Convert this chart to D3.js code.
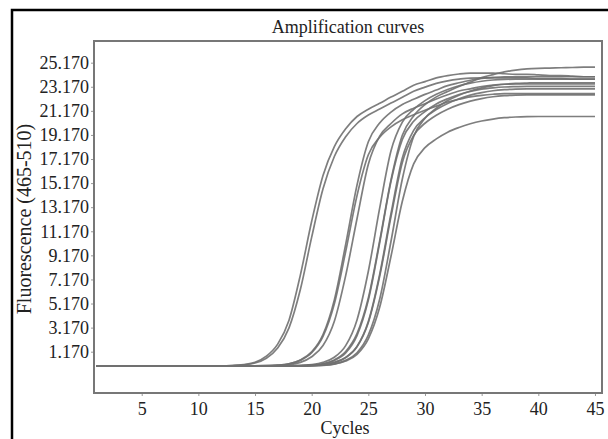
<!DOCTYPE html>
<html>
<head>
<meta charset="utf-8">
<script src="https://cdn.jsdelivr.net/npm/d3@7"></script>
<style>
  html, body { margin: 0; padding: 0; background: #fff; }
  svg { display: block; }
  text { font-family: "Liberation Serif", "Times New Roman", serif; fill: #222; }
</style>
</head>
<body>
<svg id="chart" width="608" height="439"></svg>
<script>
// ---- data ----
const cycles = [1,2,3,4,5,6,7,8,9,10,11,12,13,14,15,16,17,18,19,20,21,22,23,24,25,26,27,28,29,30,31,32,33,34,35,36,37,38,39,40,41,42,43,44,45];

const curveA1 = [0,0,0,0,0,0,0,0,0,0,0,0,0.02,0.10,0.29,0.80,1.80,3.79,7.53,12.0,15.8,18.2,19.68,20.7,21.31,21.8,22.31,22.79,23.3,23.6,23.91,24.1,24.23,24.3,24.3,24.3,24.25,24.2,24.2,24.15,24.1,24.1,24.05,24.0,24.0];
const curveA2 = [0,0,0,0,0,0,0,0,0,0,0,0,0.02,0.07,0.23,0.63,1.48,3.15,6.33,10.68,14.7,17.38,19.02,20.12,20.82,21.32,21.82,22.3,22.8,23.14,23.45,23.66,23.8,23.89,23.9,23.9,23.9,23.9,23.9,23.85,23.85,23.85,23.8,23.8,23.8];
const curveB1 = [0,0,0,0,0,0,0,0,0,0,0,0,0,0,0,0.01,0.05,0.17,0.48,1.15,2.59,5.47,10.08,15.0,18.6,20.16,21.07,21.7,22.13,22.54,22.9,23.26,23.5,23.71,23.86,23.95,24.0,24.0,24.0,24.0,24.0,24.0,24.0,24.0,24.0];
const curveB2 = [0,0,0,0,0,0,0,0,0,0,0,0,0,0,0,0.01,0.05,0.16,0.45,1.08,2.44,5.15,9.49,14.13,17.52,18.98,19.84,20.43,20.84,21.22,21.56,21.9,22.13,22.33,22.46,22.55,22.6,22.6,22.6,22.6,22.6,22.6,22.6,22.6,22.6];
const curveB3 = [0,0,0,0,0,0,0,0,0,0,0,0,0,0,0,0,0.02,0.09,0.28,0.75,1.68,3.7,7.49,12.21,16.73,19.07,20.12,20.92,21.39,21.76,22.16,22.51,22.82,23.0,23.19,23.31,23.38,23.4,23.4,23.4,23.4,23.4,23.4,23.4,23.4];
const curveC1 = [0,0,0,0,0,0,0,0,0,0,0,0,0,0,0,0,0,0,0.02,0.1,0.29,0.71,1.67,3.81,7.85,13.09,17.85,20.23,21.3,22.02,22.54,22.94,23.25,23.47,23.63,23.73,23.78,23.8,23.8,23.8,23.8,23.8,23.8,23.8,23.8];
const curveC2 = [0,0,0,0,0,0,0,0,0,0,0,0,0,0,0,0,0,0,0.01,0.05,0.17,0.49,1.19,2.67,5.63,10.37,15.44,19.14,20.75,21.69,22.33,22.77,23.19,23.56,23.93,24.18,24.4,24.55,24.65,24.7,24.72,24.75,24.77,24.8,24.8];
const curveC3 = [0,0,0,0,0,0,0,0,0,0,0,0,0,0,0,0,0,0,0.01,0.05,0.16,0.44,1.07,2.51,5.45,10.21,15.31,18.79,20.3,21.11,21.74,22.18,22.53,22.78,22.97,23.08,23.15,23.18,23.2,23.2,23.2,23.2,23.2,23.2,23.2];
const curveC4 = [0,0,0,0,0,0,0,0,0,0,0,0,0,0,0,0,0,0,0,0.02,0.09,0.27,0.68,1.58,3.6,7.43,12.38,16.88,19.13,20.14,20.81,21.31,21.69,21.98,22.19,22.34,22.43,22.48,22.5,22.5,22.5,22.5,22.5,22.5,22.5];
const curveC5 = [0,0,0,0,0,0,0,0,0,0,0,0,0,0,0,0,0,0,0,0.01,0.05,0.16,0.45,1.08,2.54,5.52,10.34,15.51,19.04,20.56,21.39,22.02,22.47,22.82,23.08,23.27,23.38,23.45,23.48,23.5,23.5,23.5,23.5,23.5,23.5];
const curveC6 = [0,0,0,0,0,0,0,0,0,0,0,0,0,0,0,0,0,0,0,0.01,0.04,0.14,0.39,0.95,2.24,4.86,9.1,13.66,16.77,18.11,18.84,19.4,19.79,20.1,20.33,20.49,20.6,20.66,20.69,20.7,20.7,20.7,20.7,20.7,20.7];
const curveC7 = [0,0,0,0,0,0,0,0,0,0,0,0,0,0,0,0,0,0,0,0.02,0.09,0.28,0.69,1.61,3.68,7.59,12.65,17.25,19.55,20.59,21.28,21.78,22.17,22.47,22.68,22.84,22.93,22.98,23.0,23.0,23.0,23.0,23.0,23.0,23.0];

const seriesList = [curveA1, curveA2, curveB1, curveB2, curveB3, curveC1, curveC2, curveC3, curveC4, curveC5, curveC6, curveC7];

const xTickValues = [5, 10, 15, 20, 25, 30, 35, 40, 45];
const yTickValues = [1.17, 3.17, 5.17, 7.17, 9.17, 11.17, 13.17, 15.17, 17.17, 19.17, 21.17, 23.17, 25.17];
const yTickLabels = ["1.170", "3.170", "5.170", "7.170", "9.170", "11.170", "13.170", "15.170", "17.170", "19.170", "21.170", "23.170", "25.170"];

const titleText = "Amplification curves";
const xTitle = "Cycles";
const yTitle = "Fluorescence (465-510)";

// ---- layout ----
const svg = d3.select("#chart");
const box = { left: 94, top: 41, right: 602, bottom: 393 };

const x = d3.scaleLinear().domain([0.79, 45.62]).range([box.left, box.right]);
const y = d3.scaleLinear().domain([-2.26, 26.97]).range([box.bottom, box.top]);

// outer frame
svg.append("rect")
  .attr("x", 12).attr("y", 10).attr("width", 640).attr("height", 470)
  .attr("fill", "none").attr("stroke", "#000").attr("stroke-width", 2.5);

// title
svg.append("text")
  .attr("x", (box.left + box.right) / 2).attr("y", 33)
  .attr("text-anchor", "middle").attr("font-size", 18)
  .text(titleText);

// clip for curves
svg.append("defs").append("clipPath").attr("id", "clip")
  .append("rect").attr("x", box.left).attr("y", box.top)
  .attr("width", box.right - box.left).attr("height", box.bottom - box.top);

// curves
const line = d3.line()
  .x((d, i) => x(cycles[i]))
  .y(d => y(d))
  .curve(d3.curveMonotoneX);

svg.append("g").attr("clip-path", "url(#clip)")
  .selectAll("path").data(seriesList).join("path")
  .attr("d", d => line(d))
  .attr("fill", "none")
  .attr("stroke", "#707070")
  .attr("stroke-width", 1.7)
  .attr("stroke-opacity", 0.9);

// x axis
const xAxis = d3.axisBottom(x).tickValues(xTickValues).tickSize(3).tickPadding(6).tickFormat(d3.format("d"));
const gx = svg.append("g").attr("transform", `translate(0,${box.bottom})`).call(xAxis);
gx.select(".domain").remove();
gx.selectAll(".tick line").attr("stroke", "#999");
gx.selectAll(".tick text").attr("font-size", 18).attr("font-family", "Liberation Serif").attr("fill", "#222");

// y axis
const yAxis = d3.axisLeft(y).tickValues(yTickValues).tickSize(3).tickPadding(2)
  .tickFormat((d, i) => yTickLabels[i]);
const gy = svg.append("g").attr("transform", `translate(${box.left},0)`).call(yAxis);
gy.select(".domain").remove();
gy.selectAll(".tick line").attr("stroke", "#999");
gy.selectAll(".tick text").attr("font-size", 18).attr("font-family", "Liberation Serif").attr("fill", "#222");

// plot box
svg.append("rect")
  .attr("x", box.left).attr("y", box.top)
  .attr("width", box.right - box.left).attr("height", box.bottom - box.top)
  .attr("fill", "none").attr("stroke", "#777").attr("stroke-width", 2);

// axis titles
svg.append("text")
  .attr("x", (box.left + box.right) / 2 - 3).attr("y", 434)
  .attr("text-anchor", "middle").attr("font-size", 18)
  .text(xTitle);

svg.append("text")
  .attr("transform", `translate(31,219) rotate(-90)`)
  .attr("text-anchor", "middle").attr("font-size", 20)
  .text(yTitle);
</script>
</body>
</html>
